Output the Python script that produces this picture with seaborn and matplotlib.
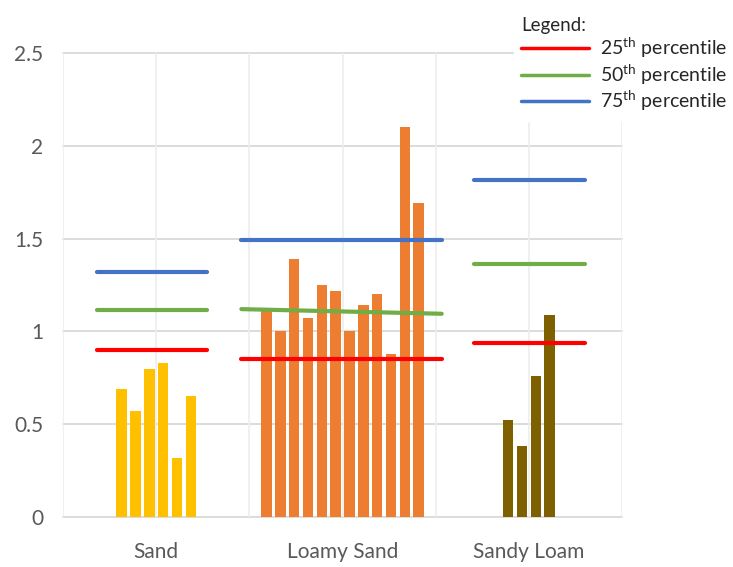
import numpy as np
import pandas as pd
import matplotlib
matplotlib.use("Agg")
import matplotlib.pyplot as plt
import seaborn as sns

# ---- data ----
soils = ["Sand", "Loamy Sand", "Sandy Loam"]
sand_vals = [0.69, 0.57, 0.80, 0.83, 0.32, 0.65]
loamy_sand_vals = [1.11, 1.00, 1.39, 1.07, 1.25, 1.22, 1.00, 1.14, 1.20, 0.88, 2.10, 1.69]
sandy_loam_vals = [0.52, 0.38, 0.76, 1.09]
p25 = [0.90, 0.853, 0.94]
p50_start = [1.115, 1.12, 1.362]
p50_end = [1.115, 1.095, 1.362]
p75 = [1.32, 1.49, 1.815]
y_ticks = [0, 0.5, 1, 1.5, 2, 2.5]
y_tick_labels = ["0", "0.5", "1", "1.5", "2", "2.5"]
pct_labels = [r"25$^{\rm th}$ percentile", r"50$^{\rm th}$ percentile", r"75$^{\rm th}$ percentile"]
legend_title = "Legend:"

# ---- styling ----
sns.set_style("white")
plt.rcParams["font.family"] = ["Lato", "DejaVu Sans"]
plt.rcParams["mathtext.fontset"] = "custom"
plt.rcParams["mathtext.rm"] = "Lato"
plt.rcParams["mathtext.it"] = "Lato:italic"
plt.rcParams["mathtext.bf"] = "Lato:bold"

bar_colors = {"Sand": "#FFC000", "Loamy Sand": "#ED7D31", "Sandy Loam": "#7F6000"}
line_colors = dict(zip(pct_labels, ["#FF0000", "#70AD47", "#4472C4"]))

# bar layout (positions in category units)
pitch = 0.0742
groups = [sand_vals, loamy_sand_vals, sandy_loam_vals]
rows = []
for gi, (soil, vals) in enumerate(zip(soils, groups)):
    n = len(vals)
    for i, v in enumerate(vals):
        rows.append({"soil": soil, "pos": gi + (i - (n - 1) / 2) * pitch, "value": v})
bars_df = pd.DataFrame(rows)

# percentile segment spans relative to category center
spans = [(-0.317, 0.274), (-0.543, 0.532), (-0.296, 0.301)]
lrows = []
for gi, soil in enumerate(soils):
    x0, x1 = gi + spans[gi][0], gi + spans[gi][1]
    for lab, (ya, yb) in zip(pct_labels, [(p25[gi], p25[gi]),
                                          (p50_start[gi], p50_end[gi]),
                                          (p75[gi], p75[gi])]):
        lrows.append({"pct": lab, "soil": soil, "x": x0, "y": ya})
        lrows.append({"pct": lab, "soil": soil, "x": x1, "y": yb})
lines_df = pd.DataFrame(lrows)

fig = plt.figure(figsize=(7.33, 5.67), dpi=100)
ax = fig.add_axes([0.086, 0.0882, 0.7627, 0.8183])

sns.barplot(data=bars_df, x="pos", y="value", hue="soil", palette=bar_colors,
            native_scale=True, dodge=False, width=0.76, errorbar=None,
            saturation=1, linewidth=0, legend=False, ax=ax, zorder=2)

sns.lineplot(data=lines_df, x="x", y="y", hue="pct", units="soil", estimator=None,
             palette=line_colors, linewidth=3, sort=False, ax=ax, zorder=3)

ax.set_xlim(-0.5, 2.5)
ax.set_ylim(0, 2.5)
ax.set_xticks(range(len(soils)))
ax.set_xticklabels(soils)
ax.set_yticks(y_ticks)
ax.set_yticklabels(y_tick_labels)
ax.set_xlabel("")
ax.set_ylabel("")
ax.tick_params(axis="both", length=0, labelsize=15, labelcolor="#595959")
ax.tick_params(axis="x", pad=18)
ax.tick_params(axis="y", pad=14)
for s in ax.spines.values():
    s.set_visible(False)

# gridlines
for yv in y_ticks:
    ax.axhline(yv, color="#D9D9D9", lw=1.3, zorder=0, clip_on=False)
for xv in np.arange(-0.5, 2.51, 0.5):
    ax.axvline(xv, color="#EDEDED", lw=1.2, zorder=0)

handles, labels = ax.get_legend_handles_labels()
leg = ax.legend(handles, labels, title=legend_title, loc="upper right",
                bbox_to_anchor=(1.003, 0.984), bbox_transform=fig.transFigure,
                frameon=True, framealpha=1, edgecolor="white", facecolor="white",
                fontsize=14, title_fontsize=13.5, handlelength=3.5, handletextpad=0.55,
                labelspacing=0.12, alignment="left", borderaxespad=0.0, fancybox=False)
for t in leg.get_texts():
    t.set_color("#262626")
leg.get_title().set_color("#262626")
for h in leg.legend_handles:
    h.set_linewidth(2.5)

fig.savefig("out.png", dpi=100, facecolor="white")
